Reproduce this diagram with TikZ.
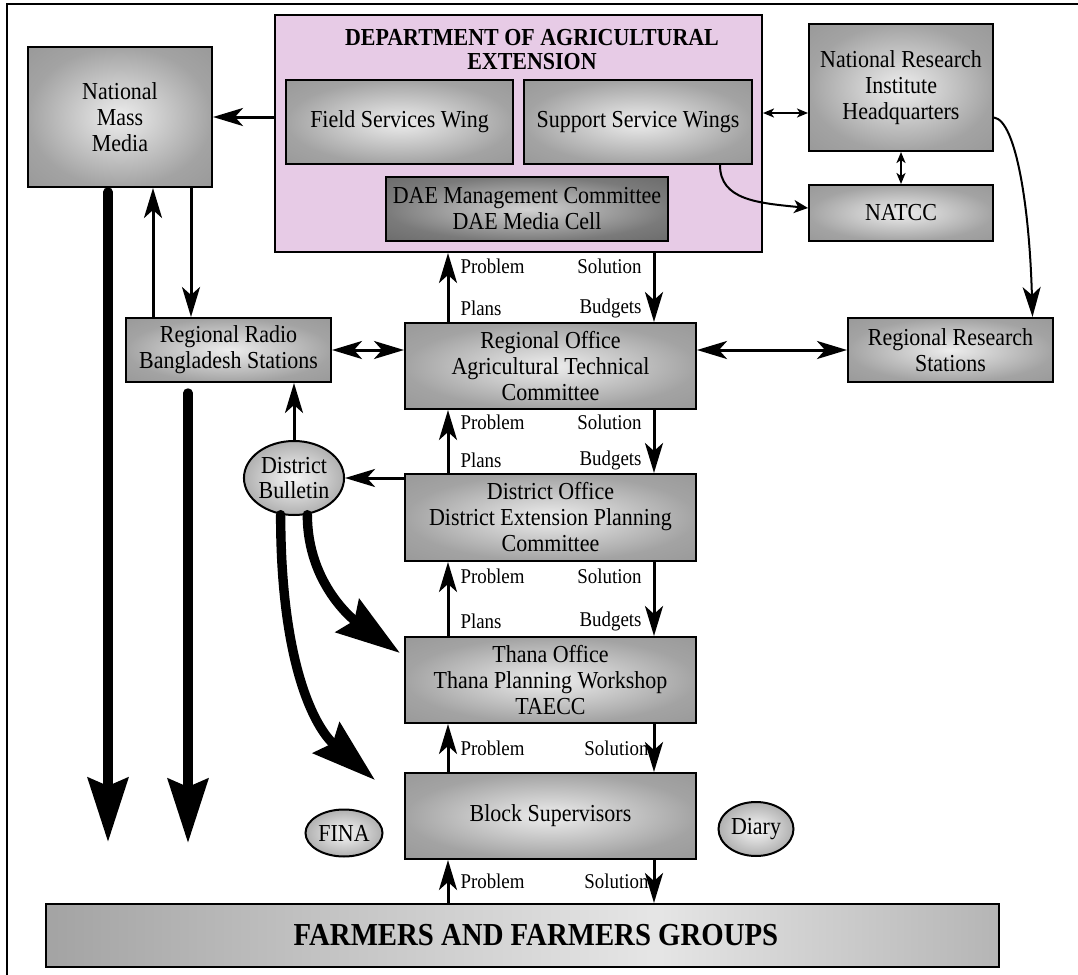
\documentclass[tikz,border=0pt]{standalone}
\usepackage{fontspec}
\setmainfont[FakeStretch=0.9]{Liberation Serif}
\usetikzlibrary{positioning, arrows.meta, shapes.geometric}
\definecolor{daepink}{RGB}{231,203,230}
\pgfdeclareradialshading{boxshade}{\pgfpointorigin}{color(0bp)=(gray!14); color(25bp)=(gray!72); color(36bp)=(gray!80); color(50bp)=(gray!80)}
\pgfdeclareradialshading{darkshade}{\pgfpointorigin}{color(0bp)=(gray!35); color(25bp)=(black!52); color(36bp)=(black!58); color(50bp)=(black!58)}
\pgfdeclareradialshading{ovalshade}{\pgfpointorigin}{color(0bp)=(gray!6); color(25bp)=(gray!62); color(50bp)=(gray!62)}
\pgfdeclarehorizontalshading{farmshade}{100bp}{color(0bp)=(gray!72); color(25bp)=(gray!72); color(39bp)=(gray!48); color(57bp)=(gray!20); color(75bp)=(gray!58); color(100bp)=(gray!58)}
\tikzset{
  >={Stealth[length=15pt,width=9pt,inset=4pt]},
  box/.style={draw, line width=1pt, shade, shading=boxshade, align=center,
    inner sep=2pt, font=\fontsize{12.2}{13}\selectfont},
  darkbox/.style={box, shading=darkshade},
  oval/.style={ellipse, draw, line width=1pt, shade, shading=ovalshade,
    align=center, inner sep=0pt, font=\fontsize{12.2}{12.5}\selectfont},
  flow/.style={->, line width=1.5pt},
  tiny/.style={<->, line width=1pt, >={Stealth[length=5.5pt,width=4.5pt,inset=1.5pt]}},
  fat/.style={line width=4.7pt, line cap=round, -{Stealth[length=32pt,width=20pt,inset=4pt]}},
  lbl/.style={font=\fontsize{10.5}{11}\selectfont, inner sep=1pt}
}
\begin{document}
\begin{tikzpicture}[x=0.5pt, y=-0.5pt]
  \useasboundingbox (0,0) rectangle (1078,975);
  \draw[line width=0.8pt] (1078,4) -- (7,4) -- (7,975);

  % national level
  \node[draw, line width=1pt, fill=daepink, minimum width=243.5pt, minimum height=118.5pt] (dae) at (518.5,133.5) {};
  \node[font=\fontsize{12.2}{12}\selectfont\bfseries, align=center] (daetitle) at (532,50) {DEPARTMENT OF AGRICULTURAL\\EXTENSION};
  \node[box, minimum width=113.5pt, minimum height=42pt] (fsw) at (399.5,122) {Field Services Wing};
  \node[box, minimum width=114pt, minimum height=42pt] (ssw) at (638,122) {Support Service Wings};
  \node[darkbox, minimum width=141pt, minimum height=32pt] (dmc) at (527,209) {DAE Management Committee\\DAE Media Cell};
  \node[box, minimum width=92pt, minimum height=70pt] (nmm) at (120,117) {National\\Mass\\Media};
  \node[box, minimum width=92pt, minimum height=63.5pt] (nri) at (901,87.5) {National Research\\Institute\\Headquarters};
  \node[box, minimum width=92pt, minimum height=28pt] (natcc) at (901,213) {NATCC};

  % regional to block level
  \node[box, minimum width=102.5pt, minimum height=32pt] (rr) at (228.5,350) {Regional Radio\\Bangladesh Stations};
  \node[box, minimum width=145.5pt, minimum height=43pt] (ro) at (550.5,366) {Regional Office\\Agricultural Technical\\Committee};
  \node[box, minimum width=102.5pt, minimum height=32pt] (rrs) at (950.5,350) {Regional Research\\Stations};
  \node[oval, minimum width=48pt, minimum height=37pt] (db) at (294,478) {District\\Bulletin};
  \node[box, minimum width=145.5pt, minimum height=43.5pt] (do) at (550.5,517.5) {District Office\\District Extension Planning\\Committee};
  \node[box, minimum width=145.5pt, minimum height=43pt] (thana) at (550.5,680) {Thana Office\\Thana Planning Workshop\\TAECC};
  \node[box, minimum width=145.5pt, minimum height=43pt] (block) at (550.5,816) {Block Supervisors};
  \node[oval, minimum width=38.5pt, minimum height=23.5pt] (fina) at (344,833) {FINA};
  \node[oval, minimum width=37.5pt, minimum height=27pt] (diary) at (756,829) {Diary};
  \node[box, shading=farmshade, minimum width=476.5pt, minimum height=31.5pt,
    font=\fontsize{16}{17}\selectfont\bfseries] (farmers) at (522.5,935.5) {\hspace*{13.5pt}FARMERS AND FARMERS GROUPS};

  \coordinate (pcol) at (448,0);
  \coordinate (scol) at (654,0);
  \coordinate (rowA) at (0,113);
  \coordinate (mmup) at (153,0);
  \coordinate (mmdn) at (191,0);
  \coordinate (mmend) at (108,842);
  \coordinate (rrend) at (188,843);
  \coordinate (bsend) at (375,780);
  \coordinate (thend) at (400,653);

  % problem / solution chain
  \foreach \lo/\hi in {ro/dae, do/ro, thana/do}{
    \draw[flow] (pcol |- \lo.north) -- node[lbl, pos=0.2, right=4.5pt] {Plans}
      node[lbl, pos=0.8, right=4.5pt] {Problem} (pcol |- \hi.south);
    \draw[flow] (scol |- \hi.south) -- node[lbl, pos=0.2, left=4.5pt] {Solution}
      node[lbl, pos=0.8, left=4.5pt] {Budgets} (scol |- \lo.north);
  }
  \foreach \lo/\hi in {block/thana, farmers/block}{
    \draw[flow] (pcol |- \lo.north) -- node[lbl, right=4.5pt] {Problem} (pcol |- \hi.south);
    \draw[flow] (scol |- \hi.south) -- node[lbl, left=1pt] {Solution} (scol |- \lo.north);
  }

  \draw[flow] (nmm.east -| dae.west) -- (nmm.east);
  \draw[tiny] (rowA -| dae.east) -- (rowA -| nri.west);
  \draw[tiny] (nri.south) -- (natcc.north);
  \draw[flow, line width=1pt, >={Stealth[length=7pt,width=6.5pt,inset=2pt]}]
    ([xshift=41pt]ssw.south) .. controls +(0,35) and +(-50,-5) .. ([yshift=2.5pt]natcc.west);
  \draw[flow, line width=1pt] ([yshift=-15pt]nri.east) .. controls +(22,3) and +(-3,-110) .. ([xshift=41pt]rrs.north);
  \draw[flow, <->] (rr.east) -- (rr.east -| ro.west);
  \draw[flow, <->] (rrs.west -| ro.east) -- (rrs.west);
  \draw[flow] (mmup |- rr.north) -- (mmup |- nmm.south);
  \draw[flow] (mmdn |- nmm.south) -- (mmdn |- rr.north);
  \draw[flow] (db.north) -- (db.north |- rr.south);
  \draw[flow] (db.east -| do.west) -- (db.east);

  % media channels
  \draw[fat, shorten <=2pt] (mmend |- nmm.south) -- (mmend);
  \draw[fat, shorten <=5pt] (rrend |- rr.south) -- (rrend);
  \draw[fat] (db.-110) .. controls +(0,150) and +(-60,-52) .. (bsend);
  \draw[fat] (db.-70) .. controls +(0,70) and +(-45,-32) .. (thend);
\end{tikzpicture}
\end{document}
